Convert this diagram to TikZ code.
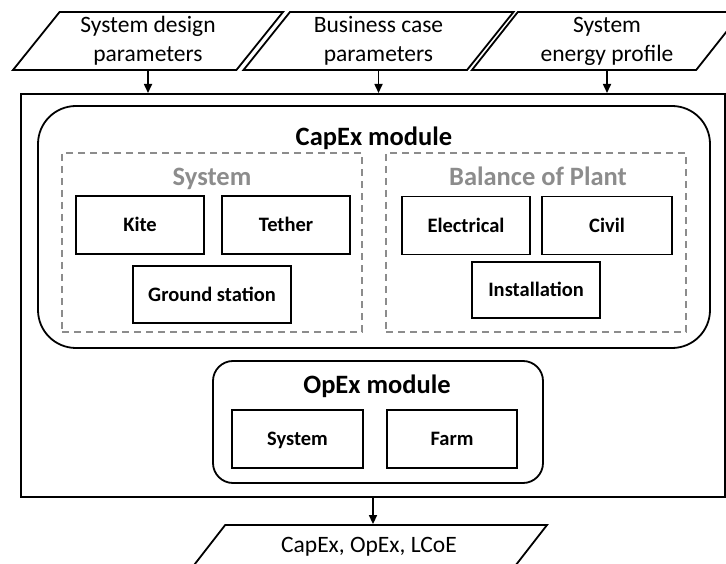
\documentclass[tikz,border=0pt]{standalone}
\usepackage{fontspec}
\setmainfont{Carlito}
\usetikzlibrary{shapes.geometric, arrows.meta}
\definecolor{labelgray}{RGB}{140,140,140}

\begin{document}
\begin{tikzpicture}[
  x=1pt, y=-1pt,
  param/.style={draw, trapezium, trapezium left angle=46.5, trapezium right angle=133.5, trapezium stretches body=true, minimum width=270pt, minimum height=58pt, line width=1.8pt, align=center, inner sep=0pt, font=\fontsize{23.5}{29}\selectfont},
  result/.style={param, trapezium left angle=29.1, trapezium right angle=150.9, minimum width=356pt, minimum height=44pt},
  outerbox/.style={draw, rectangle, line width=2pt, minimum width=704pt, minimum height=403pt},
  module/.style={draw, rectangle, line width=1.8pt, inner sep=0pt},
  group/.style={draw=labelgray, dashed, dash pattern=on 7pt off 5pt, rectangle, line width=1.6pt, minimum width=300pt, minimum height=179pt},
  part/.style={draw, rectangle, line width=1.8pt, minimum width=128pt, minimum height=58pt, text height=16.4pt, text depth=3.3pt, font=\fontsize{20.5}{25}\selectfont\bfseries},
  heading/.style={font=\fontsize{26.5}{32}\selectfont\bfseries, text height=21.2pt, text depth=4.2pt, inner sep=0pt},
  flow/.style={-{Triangle[length=9pt, width=8pt]}, line width=1.6pt}
]
\useasboundingbox (0,0) rectangle (726,564);

% Top row - inputs
\node[param] (design) at (148,41) {System design\\parameters};
\node[param] (business) at (378.5,41) {Business case\\parameters};
\node[param] (energy) at (607,41) {System\\energy profile};

% Cost model frame
\node[outerbox] (model) at (373,295.5) {};

% CapEx module
\node[module, rounded corners=38pt, minimum width=672pt, minimum height=242pt] (capex) at (374,227) {};
\node[heading] (capexlabel) at (374,137) {CapEx module};

\node[group] (system) at (212,242.5) {};
\node[heading, text=labelgray] (systemlabel) at (212,177) {System};
\node[part] (kite) at (140,225) {Kite};
\node[part] (tether) at (286,225) {Tether};
\node[part, minimum width=158pt, minimum height=57pt] (ground) at (212,294.5) {Ground station};

\node[group] (bop) at (536,242.5) {};
\node[heading, text=labelgray] (boplabel) at (538,177) {Balance of Plant};
\node[part] (electrical) at (466,225.5) {Electrical};
\node[part, minimum width=130pt] (civil) at (607,225.5) {Civil};
\node[part, minimum height=56pt] (installation) at (536,290) {Installation};

% OpEx module
\node[module, rounded corners=20pt, minimum width=330pt, minimum height=122pt] (opex) at (378,422) {};
\node[heading] (opexlabel) at (377,385) {OpEx module};
\node[part, minimum width=131pt] (opsystem) at (297.5,439) {System};
\node[part, minimum width=130pt] (farm) at (452,439) {Farm};

% Bottom - outputs
\node[result] (costs) at (369,547) {CapEx, OpEx, LCoE};

% Arrows
\draw[flow] (design.south) -- (design.south |- model.north);
\draw[flow] (business.south) -- (business.south |- model.north);
\draw[flow] (energy.south) -- (energy.south |- model.north);
\draw[flow] (model.south) -- (model.south |- costs.north);

\end{tikzpicture}
\end{document}
